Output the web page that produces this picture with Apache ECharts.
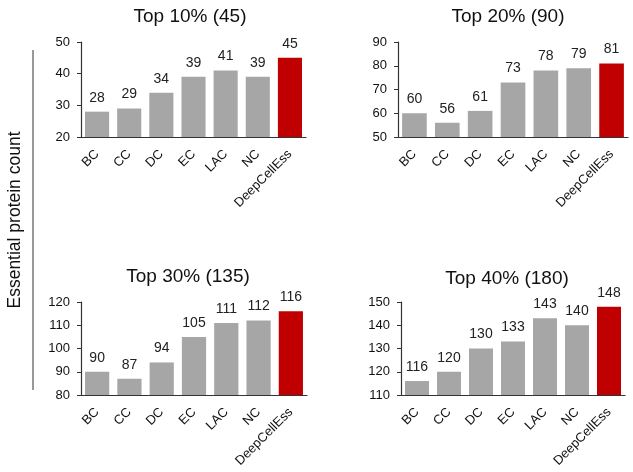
<!DOCTYPE html>
<html>
<head>
<meta charset="utf-8">
<script src="https://cdn.jsdelivr.net/npm/echarts@6/dist/echarts.min.js"></script>
<style>
html,body{margin:0;padding:0;background:#fff;}
#c{width:633px;height:472px;}
</style>
</head>
<body>
<div id="c"></div>
<script>
const categories = ['BC','CC','DC','EC','LAC','NC','DeepCellEss'];
const top10 = [28,29,34,39,41,39,45];
const top20 = [60,56,61,73,78,79,81];
const top30 = [90,87,94,105,111,112,116];
const top40 = [116,120,130,133,143,140,148];
const panelTitles = ['Top 10% (45)','Top 20% (90)','Top 30% (135)','Top 40% (180)'];
const yMins = [20,50,80,110];
const yMaxs = [50,90,120,150];
const yLabel = 'Essential protein count';

const seriesData = [top10, top20, top30, top40];
const grids = [
  {left:81, top:42, width:225, height:95},
  {left:398, top:42, width:230, height:95},
  {left:81, top:302, width:226, height:93},
  {left:401, top:302, width:224, height:93}
];
const titleX = [185, 503, 183, 502];
const titleY = [2, 2, 262, 264];
const FONT = '"Liberation Sans", Arial, sans-serif';

const chart = echarts.init(document.getElementById('c'), null, {renderer:'canvas'});
const option = {
  animation:false,
  backgroundColor:'#fff',
  title: panelTitles.map((t,i)=>({
    text:t, left:titleX[i], top:titleY[i], textAlign:'center',
    textStyle:{fontFamily:FONT, fontSize:19, fontWeight:'normal', color:'#111'}
  })),
  grid: grids.map(g=>Object.assign({containLabel:false}, g)),
  xAxis: grids.map((g,i)=>({
    type:'category', gridIndex:i, data:categories,
    axisTick:{show:false},
    axisLine:{lineStyle:{color:'#333', width:1.2}},
    axisLabel:{rotate:45, interval:0, fontFamily:FONT, fontSize:13, color:'#111', margin:15}
  })),
  yAxis: grids.map((g,i)=>({
    type:'value', gridIndex:i, min:yMins[i], max:yMaxs[i], interval:10,
    splitLine:{show:false},
    axisLine:{show:true, lineStyle:{color:'#333', width:1.2}},
    axisTick:{show:true, length:4, lineStyle:{color:'#333'}},
    axisLabel:{fontFamily:FONT, fontSize:13, color:'#111', margin:11}
  })),
  series: seriesData.map((d,i)=>({
    type:'bar', xAxisIndex:i, yAxisIndex:i, data:d,
    barCategoryGap:'25%',
    itemStyle:{color:(p)=> p.dataIndex===categories.length-1 ? '#c00000' : '#a6a6a6'},
    label:{show:true, position:'top', distance:7, fontFamily:FONT, fontSize:14, color:'#222'}
  })),
  graphic:[
    {type:'line', shape:{x1:33,y1:50,x2:33,y2:390}, style:{stroke:'#333', lineWidth:1}},
    {type:'text', x:15, y:220, rotation:Math.PI/2, style:{text:yLabel, font:'17.5px '+FONT, fill:'#111', textAlign:'center', textVerticalAlign:'middle'}}
  ]
};
chart.setOption(option);
</script>
</body>
</html>
